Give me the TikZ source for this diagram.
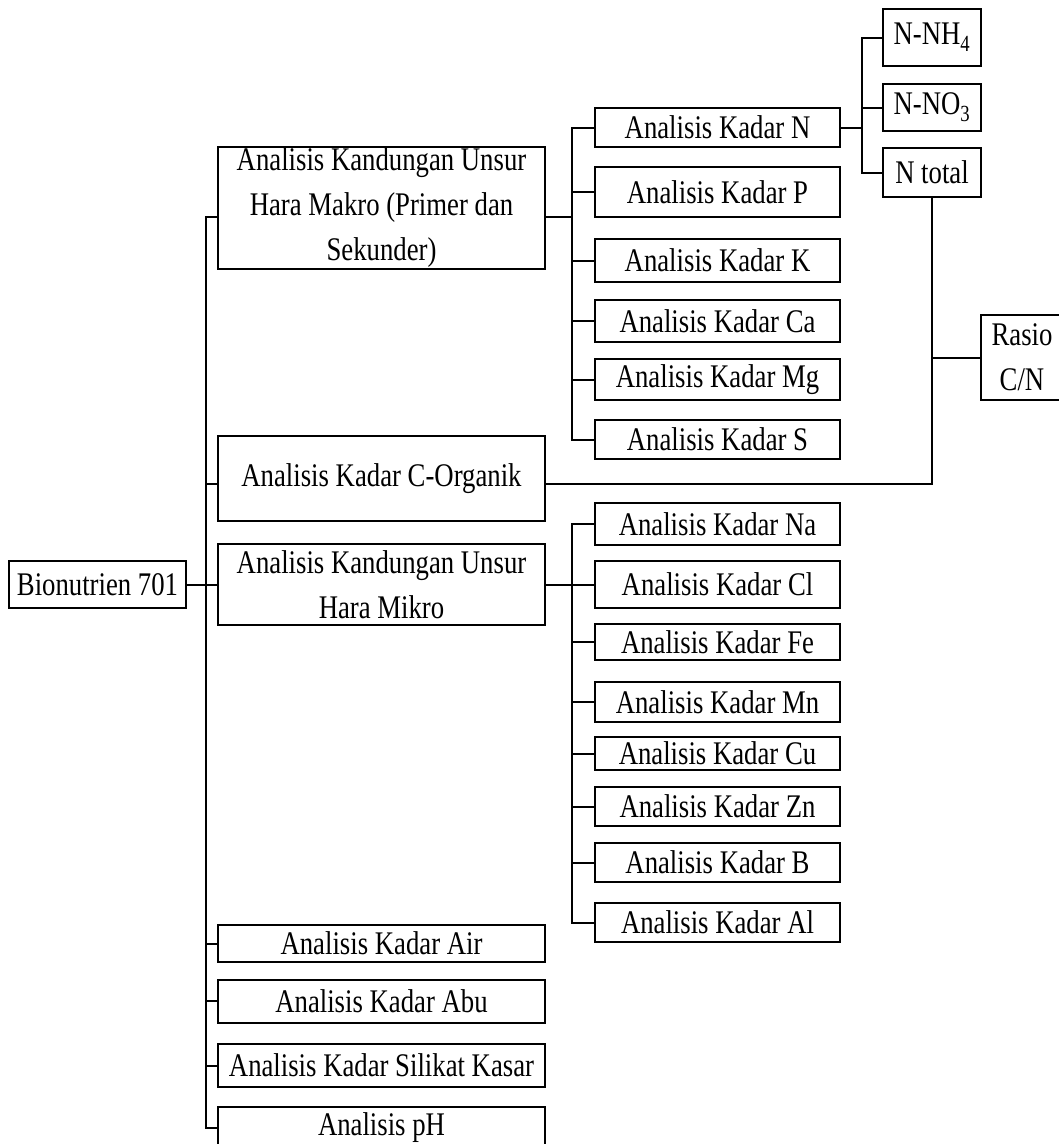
\documentclass[tikz,border=0pt]{standalone}
\usepackage{fontspec}
\setmainfont{Liberation Serif}[FakeStretch=0.81]
\begin{document}
\begin{tikzpicture}[x=1pt,y=-1pt,
  bx/.style={draw, line width=2pt, inner sep=0pt, align=center, font=\fontsize{33}{45}\selectfont},
  br/.style={bx, minimum width=327},
  rc/.style={bx, minimum width=245},
  sb/.style={bx, minimum width=98},
  ln/.style={line width=2pt, line cap=rect}]
\useasboundingbox (0,0) rectangle (1059,1144);
% root
\node[bx, minimum width=177, minimum height=47] (bio) at (97.5,584.5) {Bionutrien 701};
% branches
\node[br, minimum height=122] (makro) at (381.5,208) {\raisebox{-4pt}{\parbox{320pt}{\centering Analisis Kandungan Unsur\\Hara Makro (Primer dan\\Sekunder)}}};
\node[br, minimum height=85] (corg) at (381.5,478.5) {Analisis Kadar C-Organik};
\node[br, minimum height=81] (mikro) at (381.5,584.5) {Analisis Kandungan Unsur\\Hara Mikro};
\node[br, minimum height=37] (air) at (381.5,943.5) {Analisis Kadar Air};
\node[br, minimum height=43] (abu) at (381.5,1001) {Analisis Kadar Abu};
\node[br, minimum height=43] (sil) at (381.5,1065.5) {Analisis Kadar Silikat Kasar};
\node[br, minimum height=42] (ph) at (381.5,1128) {Analisis pH};
% macro elements
\node[rc, minimum height=39] (kN) at (717.5,127.5) {Analisis Kadar N};
\node[rc, minimum height=50] (kP) at (717.5,192) {Analisis Kadar P};
\node[rc, minimum height=43] (kK) at (717.5,260.5) {Analisis Kadar K};
\node[rc, minimum height=42] (kCa) at (717.5,321) {Analisis Kadar Ca};
\node[rc, minimum height=41] (kMg) at (717.5,379.5) {Analisis Kadar Mg};
\node[rc, minimum height=39] (kS) at (717.5,439.5) {Analisis Kadar S};
% micro elements
\node[rc, minimum height=42] (kNa) at (717.5,524) {Analisis Kadar Na};
\node[rc, minimum height=47] (kCl) at (717.5,584.5) {Analisis Kadar Cl};
\node[rc, minimum height=36] (kFe) at (717.5,642) {Analisis Kadar Fe};
\node[rc, minimum height=40] (kMn) at (717.5,702) {Analisis Kadar Mn};
\node[rc, minimum height=33] (kCu) at (717.5,753.5) {Analisis Kadar Cu};
\node[rc, minimum height=39] (kZn) at (717.5,806.5) {Analisis Kadar Zn};
\node[rc, minimum height=39] (kB) at (717.5,862.5) {Analisis Kadar B};
\node[rc, minimum height=39] (kAl) at (717.5,922.5) {Analisis Kadar Al};
% nitrogen forms
\node[sb, minimum height=57] (nh4) at (932,37.5) {N-NH\textsubscript{4}};
\node[sb, minimum height=47] (no3) at (932,107.5) {N-NO\textsubscript{3}};
\node[sb, minimum height=49] (ntot) at (932,172.5) {N total};
% ratio
\node[bx, minimum width=82, minimum height=85] (rasio) at (1022,357.5) {Rasio\\C/N};
% bus coordinates
\coordinate (busL) at (206,0);
\coordinate (busM) at (572,0);
\coordinate (busN) at (862,0);
\coordinate (mkW) at ([yshift=-9pt]makro.west);
\coordinate (mkE) at ([yshift=-9pt]makro.east);
\coordinate (coW) at ([yshift=-5pt]corg.west);
\coordinate (coE) at ([yshift=-5pt]corg.east);
% root bus
\draw[ln] (bio.east) -- (bio.east -| busL);
\draw[ln] (mkW) -- (mkW -| busL);
\draw[ln] (coW) -- (coW -| busL);
\foreach \n in {mikro,air,abu,sil,ph}
  \draw[ln] (\n.west) -- (\n.west -| busL);
\draw[ln] (mkW -| busL) -- (ph.west -| busL);
% macro bus
\draw[ln] (mkE) -- (mkE -| busM);
\foreach \n in {kN,kP,kK,kCa,kMg,kS}
  \draw[ln] (\n.west) -- (\n.west -| busM);
\draw[ln] (kN.west -| busM) -- (kS.west -| busM);
% micro bus
\draw[ln] (mikro.east) -- (mikro.east -| busM);
\foreach \n in {kNa,kCl,kFe,kMn,kCu,kZn,kB,kAl}
  \draw[ln] (\n.west) -- (\n.west -| busM);
\draw[ln] (kNa.west -| busM) -- (kAl.west -| busM);
% nitrogen bus
\draw[ln] (kN.east) -- (kN.east -| busN);
\foreach \n in {nh4,no3,ntot}
  \draw[ln] (\n.west) -- (\n.west -| busN);
\draw[ln] (nh4.west -| busN) -- (ntot.west -| busN);
% C/N ratio
\draw[ln] (coE) -| (ntot.south);
\draw[ln] (rasio.west) -- (rasio.west -| ntot.south);
\end{tikzpicture}
\end{document}
